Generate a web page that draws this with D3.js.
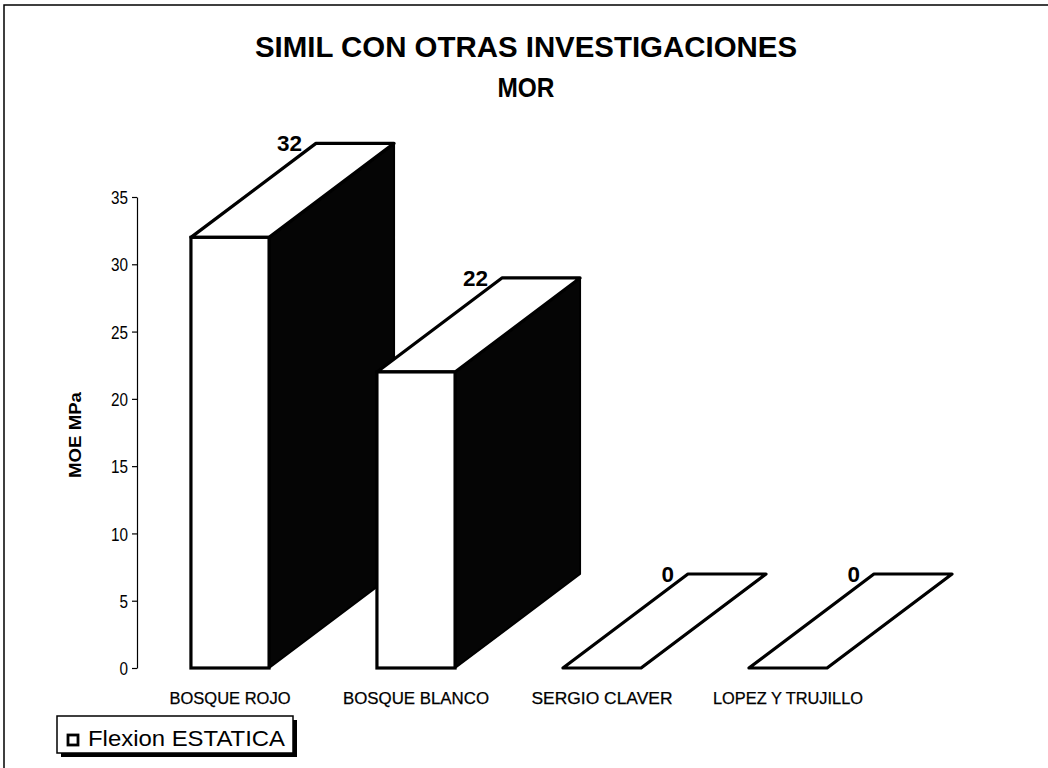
<!DOCTYPE html>
<html>
<head>
<meta charset="utf-8">
<script src="https://cdn.jsdelivr.net/npm/d3@7"></script>
<style>
  html, body { margin: 0; padding: 0; background: #fff; }
  svg { display: block; }
</style>
</head>
<body>
<svg id="chart" width="1048" height="768"></svg>
<script>
// Data
const categories = ["BOSQUE ROJO", "BOSQUE BLANCO", "SERGIO CLAVER", "LOPEZ Y TRUJILLO"];
const values = [32, 22, 0, 0];
const yTicks = [0, 5, 10, 15, 20, 25, 30, 35];
const titleLines = ["SIMIL CON OTRAS INVESTIGACIONES", "MOR"];
const yLabel = "MOE MPa";
const seriesName = "Flexion ESTATICA";

const sans = "'Liberation Sans', Arial, sans-serif";

const svg = d3.select("#chart");

// Condensed text: set a target width, glyphs are squeezed to fit
function fitWidth(sel, w) {
  sel.attr("textLength", w).attr("lengthAdjust", "spacingAndGlyphs");
}

// Outer frame (top and left edges)
svg.append("path")
  .attr("d", "M4,768 L4,5 L1048,5")
  .attr("fill", "none").attr("stroke", "#000").attr("stroke-width", 1.5);

// Scales
const x = d3.scaleBand().domain(categories).range([137, 881])
  .paddingInner(0.58).paddingOuter(0.29);
const y = d3.scaleLinear().domain([0, 35]).range([668, 197]);

// 3D depth offset for the bars
const DX = 125, DY = -94;

// Title
svg.append("text").text(titleLines[0])
  .attr("x", 526).attr("y", 57).attr("text-anchor", "middle")
  .attr("font-family", sans).attr("font-weight", "bold").attr("font-size", 29)
  .call(fitWidth, 542);
svg.append("text").text(titleLines[1])
  .attr("x", 526).attr("y", 97).attr("text-anchor", "middle")
  .attr("font-family", sans).attr("font-weight", "bold").attr("font-size", 28)
  .call(fitWidth, 57);

// Y axis
const yAxis = svg.append("g").attr("transform", "translate(137,0)")
  .call(d3.axisLeft(y).tickValues(yTicks).tickSize(5).tickSizeOuter(0).tickPadding(4));
yAxis.select(".domain").attr("stroke", "#000").attr("stroke-width", 1.2);
yAxis.selectAll(".tick line").attr("stroke", "#000").attr("stroke-width", 1.2);
yAxis.selectAll(".tick text")
  .attr("font-family", sans).attr("font-size", 19).attr("fill", "#000")
  .attr("dy", "0.35em")
  .each(function (d) {
    d3.select(this).attr("textLength", String(d).length * 8.5).attr("lengthAdjust", "spacingAndGlyphs");
  });

svg.append("text").text(yLabel)
  .attr("transform", "translate(81,435) rotate(-90)")
  .attr("text-anchor", "middle")
  .attr("font-family", sans).attr("font-weight", "bold").attr("font-size", 16)
  .call(fitWidth, 86);

// Bars (drawn left to right so nearer faces overlap)
const bars = svg.append("g");
categories.forEach((c, i) => {
  const v = values[i];
  const x0 = x(c), x1 = x0 + x.bandwidth();
  const yv = y(v), yb = y(0);
  const g = bars.append("g");
  // side face
  g.append("path")
    .attr("d", `M${x1},${yv} L${x1 + DX},${yv + DY} L${x1 + DX},${yb + DY} L${x1},${yb} Z`)
    .attr("fill", "#050505").attr("stroke", "#000").attr("stroke-width", 2)
    .attr("stroke-linejoin", "round");
  // top face
  g.append("path")
    .attr("d", `M${x0},${yv} L${x0 + DX},${yv + DY} L${x1 + DX},${yv + DY} L${x1},${yv} Z`)
    .attr("fill", "#fff").attr("stroke", "#000").attr("stroke-width", 3.2)
    .attr("stroke-linejoin", "round");
  // front face
  if (v > 0) {
    g.append("rect")
      .attr("x", x0).attr("y", yv).attr("width", x1 - x0).attr("height", yb - yv)
      .attr("fill", "#fff").attr("stroke", "#000").attr("stroke-width", 3.2);
  }
  // value label
  g.append("text").text(v)
    .attr("x", x0 + DX - 14).attr("y", yv + DY + 8)
    .attr("text-anchor", "end")
    .attr("font-family", sans).attr("font-weight", "bold").attr("font-size", 22)
    .call(fitWidth, String(v).length * 12.5);
});

// Category labels
const catWidths = [121, 146, 141, 150];
svg.append("g").selectAll("text").data(categories).join("text")
  .text(d => d)
  .attr("x", d => x(d) + x.bandwidth() / 2)
  .attr("y", 704)
  .attr("text-anchor", "middle")
  .attr("font-family", sans).attr("font-size", 16)
  .attr("stroke", "#000").attr("stroke-width", 0.25)
  .attr("textLength", (d, i) => catWidths[i]).attr("lengthAdjust", "spacingAndGlyphs");

// Legend
const leg = svg.append("g");
leg.append("rect").attr("x", 61).attr("y", 720).attr("width", 236).attr("height", 37).attr("fill", "#000");
leg.append("rect").attr("x", 57).attr("y", 716).attr("width", 236).attr("height", 37)
  .attr("fill", "#fff").attr("stroke", "#000").attr("stroke-width", 1.5);
leg.append("rect").attr("x", 68).attr("y", 735).attr("width", 10).attr("height", 10)
  .attr("fill", "#fff").attr("stroke", "#000").attr("stroke-width", 2.8);
leg.append("text").text(seriesName)
  .attr("x", 88).attr("y", 746)
  .attr("font-family", sans).attr("font-size", 22)
  .call(fitWidth, 197);
</script>
</body>
</html>
